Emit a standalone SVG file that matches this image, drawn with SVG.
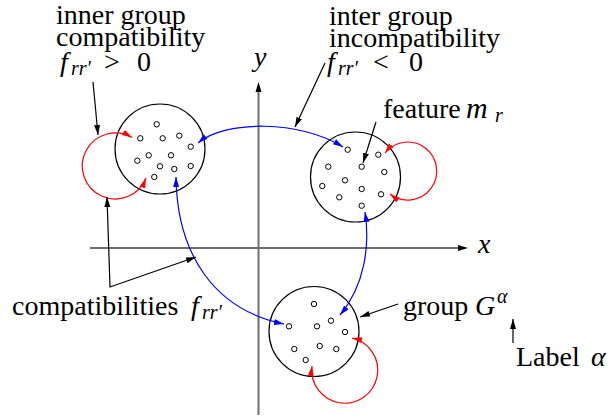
<svg xmlns="http://www.w3.org/2000/svg" width="609" height="418" viewBox="0 0 609 418">
<style>
  text { font-size: 28px; fill: #000; }
  .it { font-style: italic; }
  .sub { font-style: italic; font-size: 20px; }
  .axis { stroke: #6e6e6e; stroke-width: 2; fill: none; }
  .grp { fill: none; stroke: #000; stroke-width: 1.2; }
  .dot { fill: #fff; stroke: #000; stroke-width: 1; }
  .blk { fill: none; stroke: #000; stroke-width: 1.2; marker-end: url(#ak); }
  .red { fill: none; stroke: #f00; stroke-width: 1.2; marker-start: url(#ar); marker-end: url(#ar); }
  .blu { fill: none; stroke: #00f; stroke-width: 1.2; marker-start: url(#ab); marker-end: url(#ab); }
</style>
<defs>
  <marker id="ak" markerUnits="userSpaceOnUse" markerWidth="11" markerHeight="8" refX="10" refY="3" orient="auto-start-reverse"><path d="M0,0 L10,3 L0,6 z" fill="#000"/></marker>
  <marker id="ar" markerUnits="userSpaceOnUse" markerWidth="11" markerHeight="8" refX="10" refY="3" orient="auto-start-reverse"><path d="M0,0 L10,3 L0,6 z" fill="#f00"/></marker>
  <marker id="ab" markerUnits="userSpaceOnUse" markerWidth="11" markerHeight="8" refX="10" refY="3" orient="auto-start-reverse"><path d="M0,0 L10,3 L0,6 z" fill="#00f"/></marker>
</defs>

<g id="axes">
  <path class="axis" d="M90,248 L460,248" />
  <path d="M458,245 L468,248 L458,251 z" fill="#000"/>
  <path class="axis" d="M258.5,415 L258.5,90" />
  <path d="M255.5,92 L258.5,82 L261.5,92 z" fill="#000"/>
  <text class="it" font-family="Liberation Serif" x="478" y="253">x</text>
  <text class="it" font-family="Liberation Serif" x="254" y="66">y</text>
</g>

<g id="group1">
  <circle class="grp" cx="160" cy="149" r="45"/>
  <circle class="dot" cx="156.7" cy="124.3" r="2.7"/>
  <circle class="dot" cx="140.3" cy="138.3" r="2.7"/>
  <circle class="dot" cx="162.7" cy="138.3" r="2.7"/>
  <circle class="dot" cx="179.3" cy="135.7" r="2.7"/>
  <circle class="dot" cx="190.7" cy="146.7" r="2.7"/>
  <circle class="dot" cx="148.7" cy="155.3" r="2.7"/>
  <circle class="dot" cx="171" cy="155.3" r="2.7"/>
  <circle class="dot" cx="137.3" cy="160.7" r="2.7"/>
  <circle class="dot" cx="160" cy="166.3" r="2.7"/>
  <circle class="dot" cx="174.3" cy="169" r="2.7"/>
  <circle class="dot" cx="190.7" cy="166" r="2.7"/>
  <circle class="dot" cx="154.3" cy="177" r="2.7"/>
</g>

<g id="group2">
  <circle class="grp" cx="355.5" cy="177" r="45"/>
  <circle class="dot" cx="347.7" cy="149.7" r="2.7"/>
  <circle class="dot" cx="378.3" cy="154.7" r="2.7"/>
  <circle class="dot" cx="328.3" cy="166.7" r="2.7"/>
  <circle class="dot" cx="361.7" cy="166.7" r="2.7"/>
  <circle class="dot" cx="384.3" cy="172" r="2.7"/>
  <circle class="dot" cx="345" cy="180.3" r="2.7"/>
  <circle class="dot" cx="322.3" cy="186" r="2.7"/>
  <circle class="dot" cx="361.7" cy="189" r="2.7"/>
  <circle class="dot" cx="339.3" cy="197.3" r="2.7"/>
  <circle class="dot" cx="381" cy="194.3" r="2.7"/>
  <circle class="dot" cx="361.7" cy="205.7" r="2.7"/>
</g>

<g id="group3">
  <circle class="grp" cx="314" cy="331.5" r="45"/>
  <circle class="dot" cx="314" cy="304" r="2.7"/>
  <circle class="dot" cx="289" cy="326.3" r="2.7"/>
  <circle class="dot" cx="317" cy="326.3" r="2.7"/>
  <circle class="dot" cx="331" cy="320.7" r="2.7"/>
  <circle class="dot" cx="345" cy="332" r="2.7"/>
  <circle class="dot" cx="294.3" cy="349" r="2.7"/>
  <circle class="dot" cx="319.7" cy="346" r="2.7"/>
  <circle class="dot" cx="336.3" cy="349" r="2.7"/>
  <circle class="dot" cx="305.7" cy="360" r="2.7"/>
</g>

<g id="label-inner">
  <text font-family="Liberation Serif" x="56" y="24">inner group</text>
  <text font-family="Liberation Serif" x="56" y="46">compatibility</text>
  <text font-family="Liberation Serif" y="71"><tspan class="it" x="60">f</tspan><tspan class="sub" x="71" y="75">rr′</tspan><tspan x="104" y="71">&gt;</tspan><tspan x="137" y="71">0</tspan></text>
</g>

<g id="label-inter">
  <text font-family="Liberation Serif" x="329" y="25">inter group</text>
  <text font-family="Liberation Serif" x="329" y="47">incompatibility</text>
  <text font-family="Liberation Serif" y="71"><tspan class="it" x="327">f</tspan><tspan class="sub" x="338" y="75">rr′</tspan><tspan x="373" y="71">&lt;</tspan><tspan x="409" y="71">0</tspan></text>
</g>

<g id="label-feature">
  <text font-family="Liberation Serif" y="118"><tspan x="383">feature</tspan><tspan class="it" x="466" font-size="30">m</tspan><tspan class="sub" x="495" y="122">r</tspan></text>
</g>

<g id="label-compat">
  <text font-family="Liberation Serif" y="315"><tspan x="12">compatibilities</tspan><tspan class="it" x="191">f</tspan><tspan class="sub" x="202" y="319">rr′</tspan></text>
</g>

<g id="label-group">
  <text font-family="Liberation Serif" y="315"><tspan x="403">group</tspan><tspan class="it" x="475">G</tspan><tspan class="sub" x="497" y="303">α</tspan></text>
</g>

<g id="label-alpha">
  <text font-family="Liberation Serif" y="366"><tspan x="516">Label</tspan><tspan class="it" x="591">α</tspan></text>
</g>

<g id="connectors">
  <path class="red" d="M132,137.5 A33,33 0 1 0 146,178"/>
  <path class="red" d="M385,153 A29,29 0 1 1 390,194"/>
  <path class="red" d="M352,338 A33,33 0 1 1 312,366"/>
  <path class="blu" d="M198,143 C225,120 300,120 343,147"/>
  <path class="blu" d="M176,177 C177,255 215,310 284,324"/>
  <path class="blu" d="M365,212 C370,245 365,285 340,315"/>
  <path class="blk" d="M93,82 L98,135"/>
  <path class="blk" d="M325,63 L295,127"/>
  <path class="blk" d="M376,122 L363,163"/>
  <path class="blk" style="marker-start:url(#ak)" d="M107,197 L110,287 L196,257"/>
  <path class="blk" d="M398,304 L360,317"/>
  <path class="blk" d="M513,343 L513,319"/>
</g>
</svg>
